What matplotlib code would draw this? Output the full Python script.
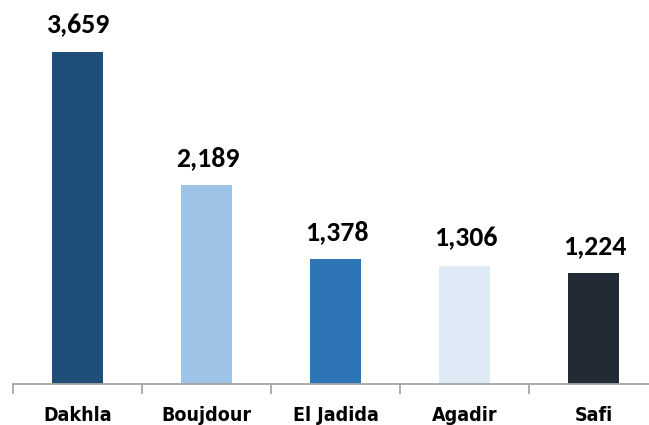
import matplotlib
matplotlib.use("Agg")
import matplotlib.pyplot as plt
from matplotlib import font_manager

categories = ["Dakhla", "Boujdour", "El Jadida", "Agadir", "Safi"]
values = [3659, 2189, 1378, 1306, 1224]
colors = ["#1f4e79", "#9dc3e6", "#2e75b6", "#deebf7", "#222a35"]

names = {f.name for f in font_manager.fontManager.ttflist}
if "Liberation Sans Narrow" in names:
    cat_font, cat_stretch, cat_size = "Liberation Sans Narrow", "normal", 15
elif "DejaVu Sans Condensed" in names:
    cat_font, cat_stretch, cat_size = "DejaVu Sans Condensed", "condensed", 14
else:
    cat_font, cat_stretch, cat_size = "DejaVu Sans", "condensed", 14
val_font = "Carlito" if "Carlito" in names else "Lato"

fig = plt.figure(figsize=(6.49, 4.25), dpi=100)
W, H = 649, 425
left, right = 13, 13 + 5 * 129
bottom, top = 384, 21.2
ax = fig.add_axes([left / W, (H - bottom) / H, (right - left) / W, (bottom - top) / H])

x = list(range(len(categories)))
ax.bar(x, values, width=0.403, color=colors)
ax.set_xlim(-0.5, 4.5)
ax.set_ylim(0, 4000)

for xi, v in zip(x, values):
    ax.annotate(f"{v:,}", (xi, v), xytext=(1, 11), textcoords="offset points",
                ha="center", va="bottom", fontsize=20, fontweight="bold",
                family=[val_font, "DejaVu Sans"], color="black")

for s in ["top", "right", "left"]:
    ax.spines[s].set_visible(False)
ax.spines["bottom"].set_color("#a6a6a6")
ax.spines["bottom"].set_linewidth(1.3)
ax.set_yticks([])
ax.set_xticks([i - 0.5 for i in range(6)], minor=False)
ax.set_xticklabels([])
ax.tick_params(axis="x", which="major", length=7, color="#a6a6a6", width=1.3)
ax.set_xticks(x, minor=True)
ax.set_xticklabels(categories, minor=True, fontsize=cat_size, fontweight="bold",
                   fontstretch=cat_stretch, family=[cat_font, "DejaVu Sans"])
ax.tick_params(axis="x", which="minor", length=0, pad=16)

fig.savefig("out.png", dpi=100)
